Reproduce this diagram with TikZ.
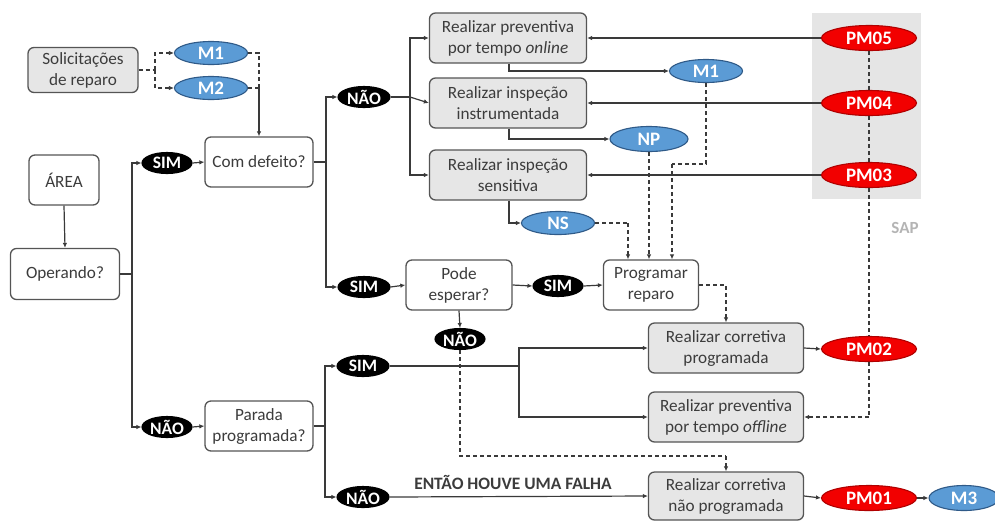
\documentclass[tikz,border=0pt]{standalone}
\usepackage{fontspec}
\setmainfont{Carlito}
\usetikzlibrary{shapes.geometric,arrows.meta}
\definecolor{lnc}{HTML}{3A3A3A}
\definecolor{bdc}{HTML}{555555}
\definecolor{grf}{HTML}{E6E6E6}
\definecolor{txc}{HTML}{3C3C3C}
\definecolor{blf}{HTML}{5B9BD5}
\definecolor{bld}{HTML}{2F5A88}
\definecolor{rdf}{HTML}{F20000}
\definecolor{rdd}{HTML}{B00000}
\definecolor{sapbg}{HTML}{E5E5E5}
\definecolor{sapt}{HTML}{B4B4B4}
\tikzset{
  boxbase/.style={rectangle, rounded corners=6pt, draw=bdc, line width=1.3pt, align=center,
    text=txc, inner sep=2pt, font=\fontsize{17.2}{21}\selectfont, minimum height=50pt},
  gbox/.style={boxbase, fill=grf},
  wbox/.style={boxbase, fill=white},
  ellbase/.style={ellipse, inner sep=0pt, line width=1.1pt, text=white,
    font=\bfseries\fontsize{19}{22}\selectfont, minimum height=23pt},
  bell/.style={ellbase, fill=blf, draw=bld, minimum width=73pt},
  rell/.style={ellbase, fill=rdf, draw=rdd, minimum width=95pt, minimum height=25pt},
  kell/.style={ellbase, fill=black, draw=black, minimum width=50pt, minimum height=21pt,
    font=\bfseries\fontsize{17.5}{20}\selectfont},
  ln/.style={draw=lnc, line width=1.2pt},
  arr/.style={ln, -{Latex[length=5pt,width=4.5pt]}},
  dsh/.style={ln, dash pattern=on 4pt off 3pt},
  darr/.style={dsh, -{Latex[length=5pt,width=4.5pt]}}
}
\begin{document}
\begin{tikzpicture}[x=1pt,y=-1pt]
\useasboundingbox (0,0) rectangle (995,520);
% SAP background
\fill[sapbg] (812,13) rectangle (921,199);
\node[text=sapt, font=\bfseries\fontsize{17}{20}\selectfont] (sap) at (905,228) {SAP};

% left column
\node[gbox, minimum width=110pt, minimum height=45pt] (sol) at (83,70) {Solicitações\\de reparo};
\node[bell] (m1a) at (211,53) {M1};
\node[bell] (m2) at (211,88) {M2};
\node[wbox, minimum width=70pt] (area) at (64,180) {ÁREA};
\node[wbox, minimum width=109pt, minimum height=51pt] (op) at (65,274) {Operando?};
\node[kell] (sim1) at (167,163) {SIM};
\node[kell] (nao2) at (167,427) {NÃO};
\node[wbox, minimum width=108pt] (cd) at (259,162) {Com defeito?};
\node[wbox, minimum width=108pt] (pp) at (259,426) {Parada\\programada?};

% second column
\node[kell, minimum width=52pt] (nao3) at (364,97) {NÃO};
\node[kell, minimum width=52pt] (sim3) at (364,287) {SIM};
\node[kell, minimum width=52pt] (sim5) at (363,366) {SIM};
\node[kell, minimum width=52pt] (nao5) at (363,497) {NÃO};

% top boxes
\node[gbox, minimum width=157pt] (b1) at (508,38) {Realizar preventiva\\por tempo \textit{online}};
\node[gbox, minimum width=157pt] (b2) at (508,103) {Realizar inspeção\\instrumentada};
\node[gbox, minimum width=157pt] (b3) at (508,175) {Realizar inspeção\\sensitiva};
\node[bell] (m1b) at (706,71) {M1};
\node[bell, minimum width=78pt, minimum height=25pt] (np) at (649,139) {NP};
\node[bell] (ns) at (558,223) {NS};

% SAP ellipses
\node[rell] (pm5) at (869,38) {PM05};
\node[rell] (pm4) at (869,103) {PM04};
\node[rell] (pm3) at (869,175) {PM03};
\node[rell] (pm2) at (869,349) {PM02};
\node[rell] (pm1) at (869,498) {PM01};
\node[bell, minimum width=70pt, minimum height=25pt] (m3) at (964,498) {M3};

% middle row
\node[wbox, minimum width=106pt] (pe) at (459,285) {Pode\\esperar?};
\node[kell] (sim4) at (558,286) {SIM};
\node[wbox, minimum width=95pt] (pr) at (651,285) {Programar\\reparo};
\node[kell] (nao4) at (460,339) {NÃO};

% bottom boxes
\node[gbox, minimum width=155pt] (c1) at (726,348) {Realizar corretiva\\programada};
\node[gbox, minimum width=155pt] (c2) at (726,417) {Realizar preventiva\\por tempo \textit{offline}};
\node[gbox, minimum width=155pt, minimum height=48pt] (c3) at (726,496) {Realizar corretiva\\não programada};

\node[text=txc, font=\bfseries\fontsize{17.4}{20}\selectfont] (falha) at (513,482) {ENTÃO HOUVE UMA FALHA};

% connectors: solicitations
\draw[dsh] (sol.east) -- (155,70);
\draw[darr] (155,70) |- (m1a.west);
\draw[darr] (155,70) |- (m2.west);
\draw[dsh] (m1a.east) -| (259,88);
\draw[dsh] (m2.east) -- (259,88);
\draw[arr] (259,88) -- (cd.north);

% area / operando
\draw[arr] (area.south) -- (op.north);
\draw[ln] (op.east) -- (132,274);
\draw[arr] (132,274) |- (sim1.west);
\draw[arr] (132,274) |- (nao2.west);
\draw[arr] (sim1.east) -- (cd.west);
\draw[arr] (nao2.east) -- (pp.west);

% com defeito branch
\draw[ln] (cd.east) -- (326,162);
\draw[arr] (326,162) |- (nao3.west);
\draw[arr] (326,162) |- (sim3.west);
\draw[ln] (nao3.east) -- (410,97);
\draw[arr] (410,97) |- (b1.west);
\draw[arr] (410,97) -- (b2.west);
\draw[arr] (410,97) |- (b3.west);

% SAP to boxes
\draw[arr] (pm5.west) -- (b1.east);
\draw[arr] (pm4.west) -- (b2.east);
\draw[arr] (pm3.west) -- (b3.east);

% box outputs
\draw[arr] (b1.south -| 509,0) |- (m1b.west);
\draw[arr] (b2.south -| 509,0) |- (np.west);
\draw[arr] (b3.south -| 509,0) |- (ns.west);

% dashed to programar
\draw[dsh] (ns.east) -- (628,223);
\draw[darr] (628,223) -- (pr.north -| 628,0);
\draw[darr] (np.south) -- (pr.north -| np.south);
\draw[dsh] (m1b.south) |- (672,164);
\draw[darr] (672,164) -- (pr.north -| 672,0);

% pode esperar row
\draw[arr] (sim3.east) -- (pe.west);
\draw[arr] (pe.east) -- (sim4.west);
\draw[arr] (sim4.east) -- (pr.west);
\draw[arr] (pe.south) -- (nao4.north);
\draw[dsh] (nao4.south) |- (c3.north |- 0,456);
\draw[darr] (c3.north |- 0,456) -- (c3.north);
\draw[dsh] (pr.east) -| (c1.north |- 0,300);
\draw[darr] (c1.north |- 0,300) -- (c1.north);

% parada branch
\draw[ln] (pp.east) -- (325,426);
\draw[arr] (325,426) |- (sim5.west);
\draw[arr] (325,426) |- (nao5.west);
\draw[ln] (sim5.east) -- (519,366);
\draw[arr] (519,366) |- (c1.west);
\draw[arr] (519,366) |- (c2.west);
\draw[arr] (nao5.east) -- (c3.west);

% outputs to SAP
\draw[arr] (c1.east) -- (pm2.west);
\draw[arr] (c3.east) -- (pm1.west);
\draw[arr] (pm1.east) -- (m3.west);

% SAP dashed spine
\draw[dsh] (pm5.south) -- (pm4.north);
\draw[dsh] (pm4.south) -- (pm3.north);
\draw[dsh] (pm3.south) -- (pm2.north);
\draw[dsh] (pm2.south) -- (pm2.south |- c2.east);
\draw[darr] (pm2.south |- c2.east) -- (c2.east);
\end{tikzpicture}
\end{document}
